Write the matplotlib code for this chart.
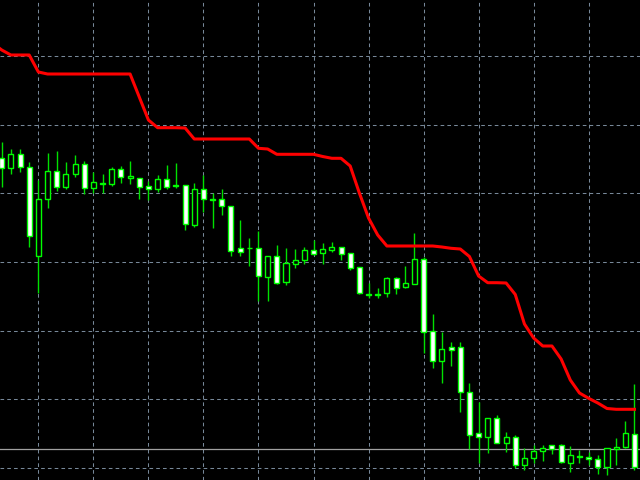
import numpy as np
import matplotlib
matplotlib.use("Agg")
import matplotlib.pyplot as plt

# ローソク足データ（価格は任意単位）
opens = [322.3, 311.7, 326, 313.3, 224.3, 280.7, 309.3, 292.7, 305.7, 316,
         291.7, 296.7, 295.7, 310.7, 301.7, 302.3, 294, 290.7, 301, 294.7,
         295, 255, 291, 281, 281, 274, 231.7, 232.5, 231.7, 203.3,
         224.3, 197.7, 215.7, 220, 230.3, 227.3, 229.7, 233.3, 226.7, 212.7,
         186.5, 186.5, 186.7, 201.7, 193.3, 195.7, 220.7, 149, 119, 133.3,
         133.3, 88.3, 46.7, 42.7, 61.7, 37.3, 43.3, 15, 21.7, 29,
         34.7, 34.7, 17.3, 24.5, 23.3, 20.7, 13.3, 31, 32.7, 46]
highs = [338.3, 331, 331, 318.3, 300, 326.7, 329.3, 317.7, 325, 319.3,
         307.7, 305.7, 313.3, 314.3, 319.3, 302.3, 299, 305, 315, 316.7,
         295, 296.7, 305, 286.7, 291, 274, 260, 242.3, 249, 224.3,
         235, 232.3, 231, 233.3, 240, 236.7, 237.7, 233.3, 226.7, 212.7,
         197.3, 192.3, 203.3, 203.3, 214.3, 246.7, 223.3, 166, 147.7, 137.7,
         137.7, 97.3, 78.3, 61.7, 65, 47.7, 45, 31.7, 35, 35,
         34.7, 36, 34, 30, 28.3, 25, 31.7, 41.7, 59, 96]
lows = [293.3, 305.7, 307.7, 232.7, 186.7, 272.3, 289, 291, 303.3, 286,
        286.7, 286.7, 294.3, 296.7, 295.7, 280.7, 280, 288.3, 291, 292.3,
        250, 253.3, 268.3, 252.3, 265, 224.3, 224, 214.3, 179, 179,
        195.7, 195, 211.7, 215.7, 225, 215.7, 228.3, 220, 210, 185.7,
        181.7, 181.7, 183.3, 185.7, 192.3, 195.7, 127.3, 111.7, 97.3, 114.3,
        67.7, 30.7, 17.3, 27.3, 37.3, 28.3, 11.7, 10, 16.7, 19,
        26, 16.7, 8.3, 17.3, 15, 6, 5, 15, 31.7, 10]
closes = [311.7, 326, 313, 244.3, 281, 309.3, 293.3, 306.3, 316.3, 291.7,
          298.3, 296, 310.7, 303.3, 304, 293.3, 290.7, 301, 293.3, 294,
          255.7, 291, 281, 280.5, 274, 229, 228.3, 232, 204, 224.3,
          197.3, 216.7, 220, 230, 226, 231, 233.3, 226, 211.7, 186.7,
          185.5, 185.5, 201.7, 192.3, 196.7, 220.7, 148.3, 119, 130.7, 130,
          88.3, 45, 42.7, 61.7, 37.3, 43.3, 15, 22.3, 29.3, 31.7,
          31, 18.3, 25, 23.5, 20.7, 13.3, 31.7, 33.3, 46.7, 13.3]

# 赤いインジケーター（1本前のバーから）
line_vals = [437, 430, 425, 425, 425, 408, 406, 406, 406, 406,
             406, 406, 406, 406, 406, 406, 383, 360, 352.3, 352.3,
             352.3, 352, 341, 341, 341, 341, 341, 341, 341, 331.7,
             331, 325.7, 325.7, 325.7, 325.7, 325.7, 323.5, 321.7, 321.7, 314,
             287, 262, 245, 234, 234, 234, 234, 234, 234, 233,
             231.7, 231, 223.5, 204, 197.3, 197.3, 197, 185.5, 156, 142,
             134, 134, 121, 100, 87, 81.7, 77, 71.5, 70.7, 70.7,
             70.7]

bid_price = 30.7
grid_prices = [12, 80.7, 149.3, 218, 286.7, 355.3, 424]

n = len(opens)
idx = np.arange(n)
o = np.array(opens)
h = np.array(highs)
l = np.array(lows)
c = np.array(closes)
bull = c >= o

fig = plt.figure(figsize=(6.4, 4.8), dpi=100)
fig.patch.set_facecolor('black')
ax = fig.add_axes([0, 0, 1, 1])
ax.set_facecolor('black')

# グリッド
ax.set_xticks(np.arange(4, n, 6))
ax.set_yticks(grid_prices)
ax.grid(True, color='#778899', linewidth=0.75, linestyle=(0, (3.5, 3)))
ax.tick_params(length=0, labelbottom=False, labelleft=False)
for s in ax.spines.values():
    s.set_visible(False)

# 現在値ライン
ax.axhline(bid_price, color='#a0a0a0', linewidth=0.9, zorder=2)

# ヒゲ
ax.vlines(idx, l, h, color='#00e000', linewidth=1.0, zorder=3)

# 実体
body_bottom = np.minimum(o, c)
body_height = np.abs(c - o)
fills = np.where(bull, 'black', 'white')
ax.bar(idx, body_height, bottom=body_bottom, width=0.55,
       color=fills, edgecolor='#00ff00', linewidth=1.0, zorder=4)

# インジケーター
ax.plot(np.arange(-1, n), line_vals, color='#ff0000', linewidth=2.2,
        zorder=5, solid_joinstyle='round')

ax.set_xlim(-0.185, 69.6)
ax.set_ylim(0, 480)

plt.savefig('out.png', dpi=100, facecolor='black')
plt.close()
